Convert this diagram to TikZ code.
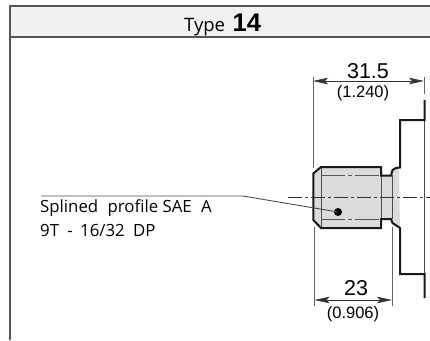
\documentclass[tikz,border=0pt]{standalone}
\usepackage{fontspec}
\setmainfont{Open Sans}
\newfontfamily\dimfont{Liberation Sans}
\usetikzlibrary{arrows.meta}
\definecolor{hdr}{HTML}{F0F1F2}
\definecolor{body}{HTML}{DADBDC}
\definecolor{frame}{HTML}{555555}
\tikzset{
  outline/.style={line width=2pt,black!90,line join=miter},
  thin line/.style={line width=1pt,black!70},
  ext/.style={line width=1pt,black!60},
  dimarrow/.style={line width=0.7pt,black!80,{Stealth[length=15pt,width=6.5pt,inset=3pt]}-{Stealth[length=15pt,width=6.5pt,inset=3pt]}},
  axis/.style={line width=0.8pt,black!80,dash pattern=on 14pt off 3pt on 3pt off 3pt},
  dimnum/.style={font=\dimfont\fontsize{21.5}{21.5}\selectfont,inner sep=0pt},
  diminch/.style={font=\dimfont\fontsize{16.5}{16.5}\selectfont,inner sep=0pt},
  lbl/.style={font=\fontsize{16.8}{16.8}\selectfont,inner sep=0pt,anchor=west}
}
\begin{document}
\begin{tikzpicture}[x=1pt,y=-1pt]
\useasboundingbox (0,0) rectangle (430,340);
% header
\fill[hdr] (10,6) rectangle (430,37);
\draw[line width=1.2pt,frame] (430,6) -- (10,6) -- (10,340);
\draw[line width=1.2pt,frame] (10,37) -- (430,37);
\node[inner sep=0pt,anchor=base west,font=\fontsize{18.5}{18.5}\selectfont] (typetxt) at (184,31) {Type};
\node[inner sep=0pt,anchor=base west,font=\dimfont\bfseries\fontsize{25.5}{25.5}\selectfont] (typenum) at (232.5,31) {14};
% body
\fill[body] (313,173) -- (321,167) -- (381,167) -- (381,175) -- (391,175) -- (392,170) -- (399,167) -- (400,228) -- (392,223) -- (391,219) -- (381,219) -- (381,228) -- (321,228) -- (313,220) -- cycle;
% inner lines
\draw[thin line] (321,168) -- (321,228);
\draw[thin line] (381,175) -- (381,219);
\draw[thin line] (392,175) -- (392,219);
\draw[thin line] (424,100) -- (424,274);
\draw[line width=1pt,black!65,dash pattern=on 24pt off 3pt on 4pt off 3pt] (321,175) -- (381,175);
\draw[line width=1pt,black!65,dash pattern=on 24pt off 3pt on 4pt off 3pt] (321,219.5) -- (381,219.5);
\draw[axis] (288,197) -- (430,197);
% outline
\draw[outline] (424.5,100) -- (424.5,120) -- (400,120) -- (400,167.5) -- (396,168) -- (392.5,170) -- (391,175.5) -- (381,175.5) -- (381,167) -- (321,167) -- (313.3,173.5) -- (313.3,220) -- (321,228) -- (381,228) -- (381,219) -- (391,219) -- (392.5,223) -- (400,228) -- (400,274) -- (424.5,274) -- (424.5,298);
% extension lines
\draw[ext] (313,77) -- (313,168);
\draw[ext] (424,77) -- (424,94);
\draw[ext] (314.5,227) -- (314.5,306);
\draw[ext] (392,227) -- (392,306);
% dimensions
\coordinate (a1) at (313,81);
\coordinate (a2) at (424,81);
\coordinate (b1) at (314.5,300);
\coordinate (b2) at (392,300);
\draw[dimarrow] (a1) -- (a2);
\draw[dimarrow] (b1) -- (b2);
\node[dimnum] (d1) at (368,71) {31.5};
\node[diminch] (d2) at (363,93) {(1.240)};
\node[dimnum] (d3) at (356,288) {23};
\node[diminch] (d4) at (353,314) {(0.906)};
% leader
\node[circle,fill=black,inner sep=0pt,minimum size=8pt] (dot) at (338,212) {};
\coordinate (l0) at (41,196);
\coordinate (l1) at (243,196);
\draw[line width=0.9pt,black!70] (l0) -- (l1) -- (dot.center);
\node[lbl] (t1) at (40,208) {Splined\hspace{5pt} profile SAE\hspace{5pt} A};
\node[lbl] (t2) at (40,230) {9T\hspace{4pt} -\hspace{3pt} 16/32\hspace{4pt} DP};
\end{tikzpicture}
\end{document}
